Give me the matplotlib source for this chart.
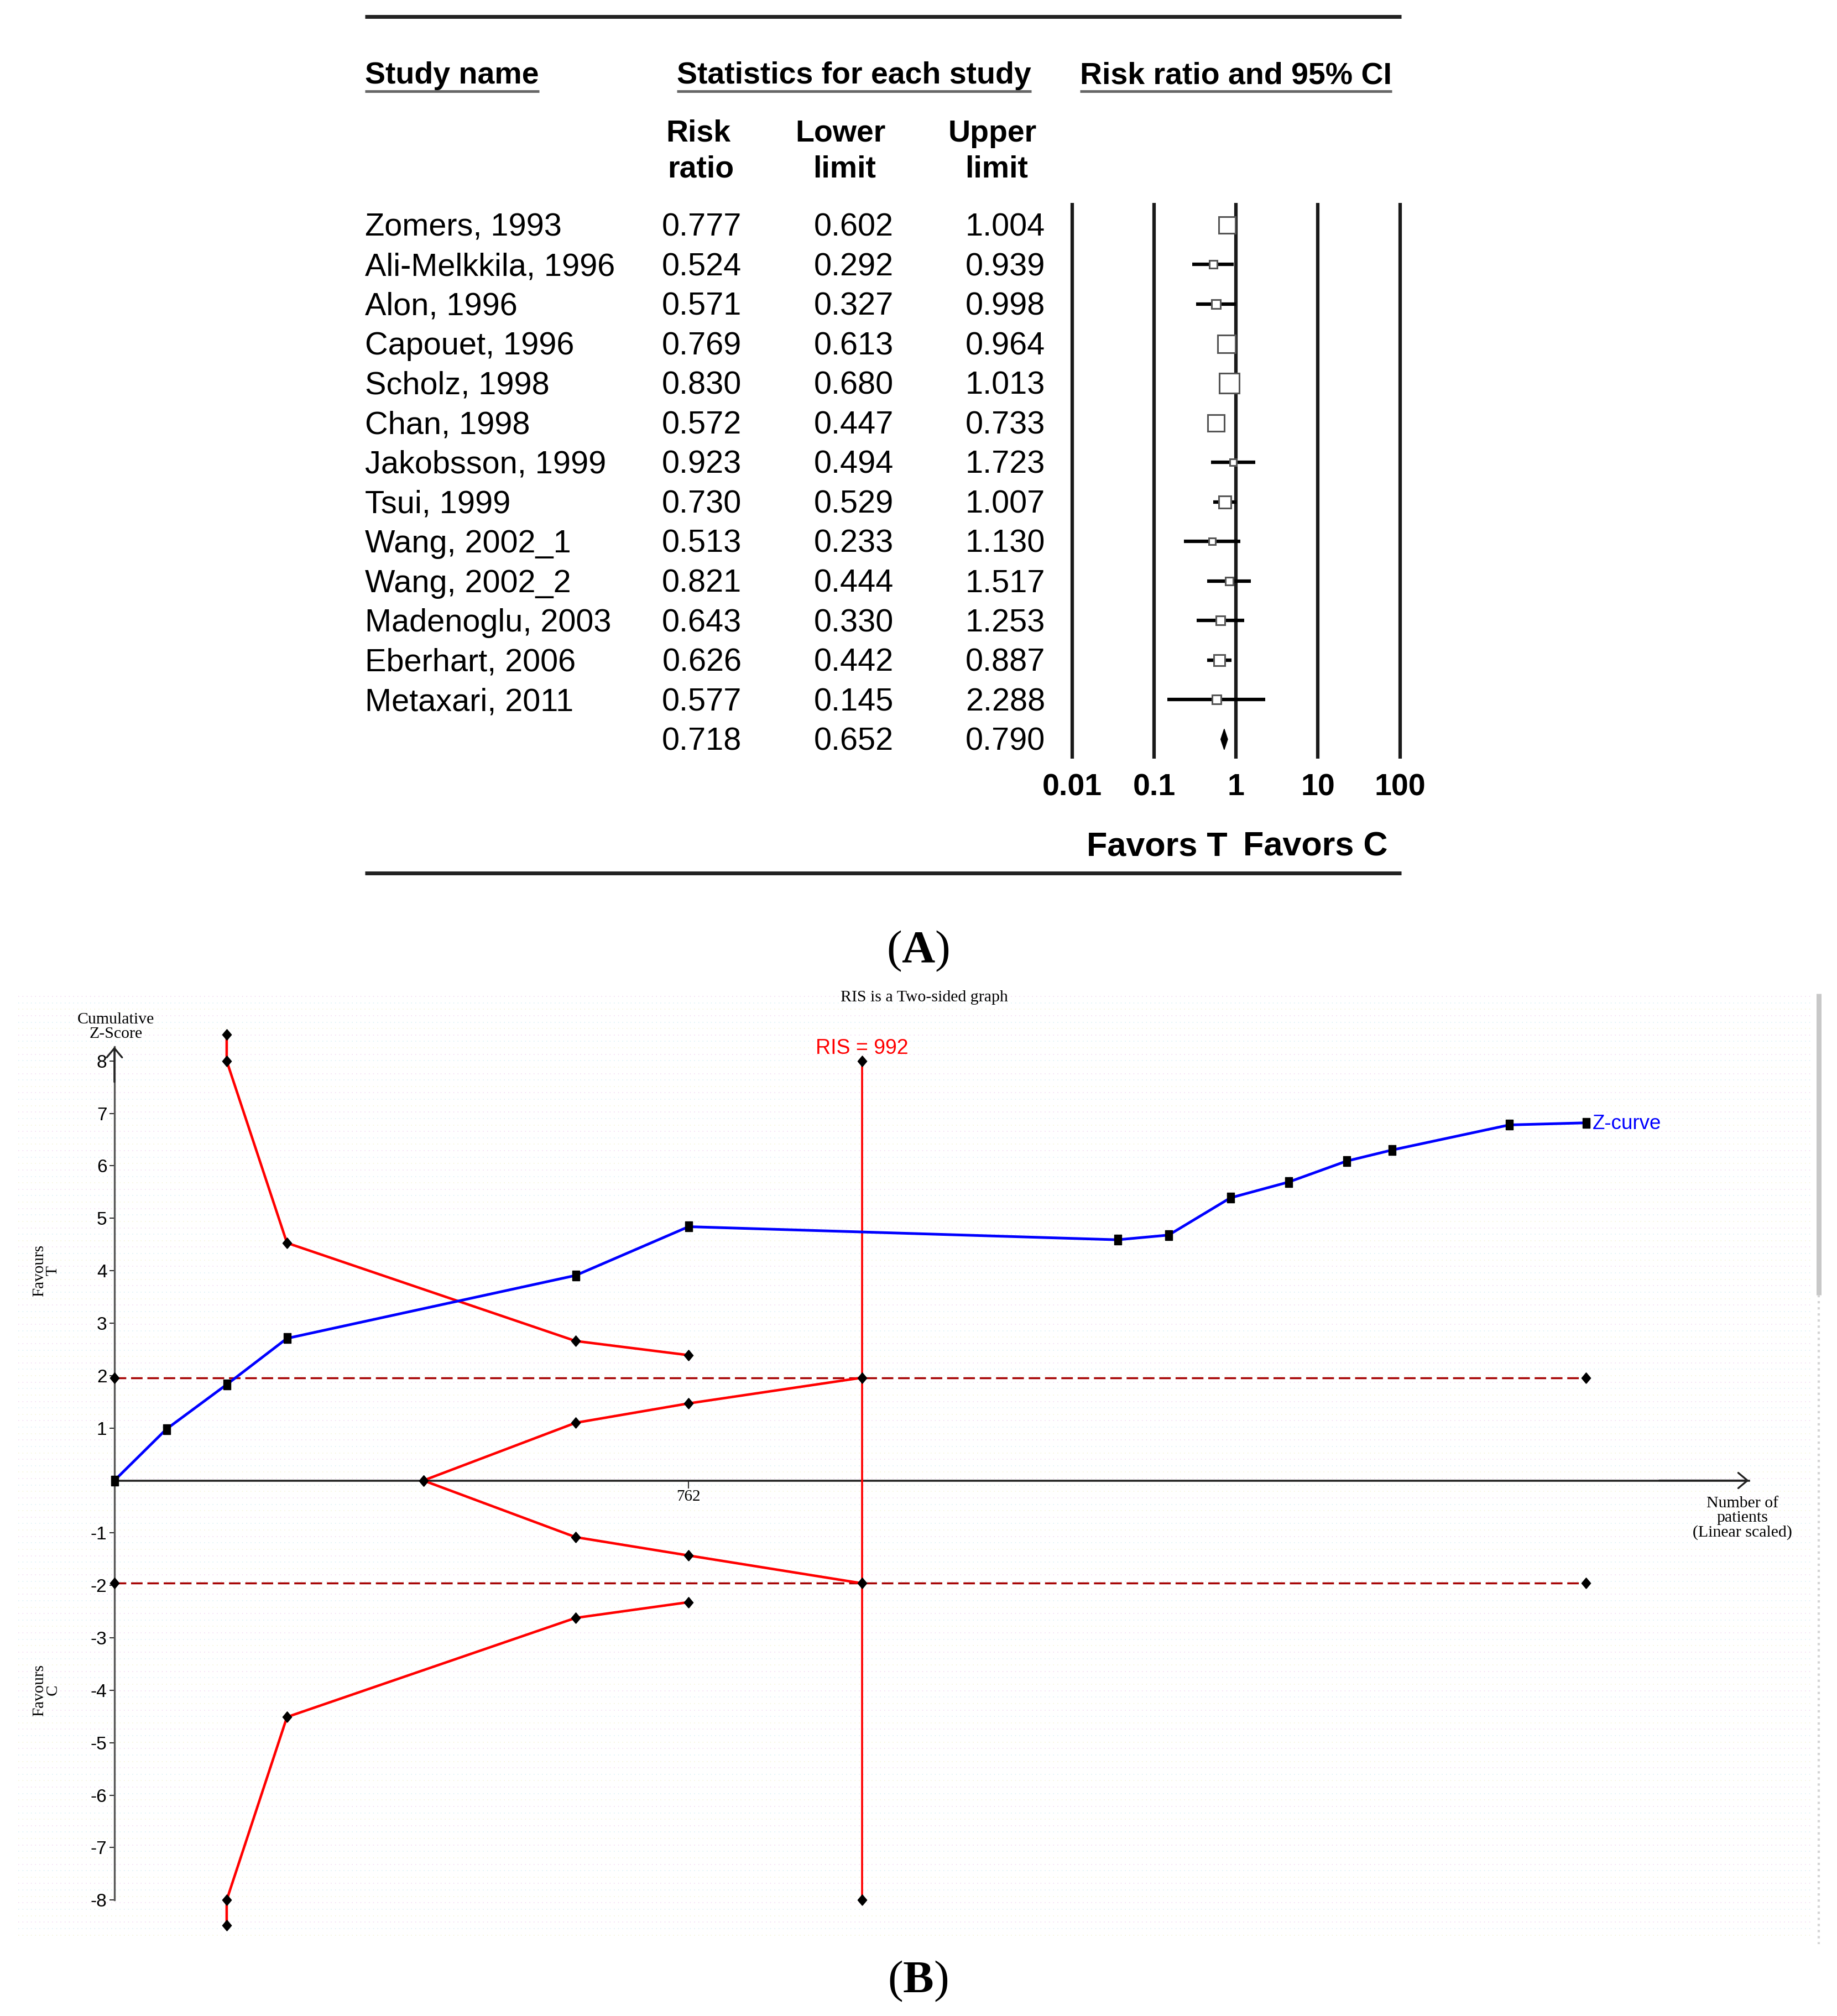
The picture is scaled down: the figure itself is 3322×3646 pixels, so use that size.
import matplotlib
matplotlib.use('Agg')
import matplotlib.pyplot as plt
import matplotlib.transforms as mtransforms
from matplotlib.ticker import NullLocator
import numpy as np

plt.rcParams['font.family'] = 'Liberation Sans'
plt.rcParams['mathtext.fontset'] = 'custom'
plt.rcParams['mathtext.rm'] = 'Liberation Serif'
plt.rcParams['mathtext.bf'] = 'Liberation Serif:bold'
plt.rcParams['axes.unicode_minus'] = False

# ---------------- panel A : forest plot ----------------
studies = ['Zomers, 1993', 'Ali-Melkkila, 1996', 'Alon, 1996', 'Capouet, 1996',
           'Scholz, 1998', 'Chan, 1998', 'Jakobsson, 1999', 'Tsui, 1999',
           'Wang, 2002_1', 'Wang, 2002_2', 'Madenoglu, 2003', 'Eberhart, 2006',
           'Metaxari, 2011']
risk_ratio = [0.777, 0.524, 0.571, 0.769, 0.830, 0.572, 0.923, 0.730, 0.513,
              0.821, 0.643, 0.626, 0.577]
lower_lim = [0.602, 0.292, 0.327, 0.613, 0.680, 0.447, 0.494, 0.529, 0.233,
             0.444, 0.330, 0.442, 0.145]
upper_lim = [1.004, 0.939, 0.998, 0.964, 1.013, 0.733, 1.723, 1.007, 1.130,
             1.517, 1.253, 0.887, 2.288]
# relative weight (%)
weight = [13.0, 3.3, 3.6, 15.4, 20.0, 14.4, 2.6, 8.0, 2.4, 3.3, 3.7, 6.6, 3.7]
pooled_rr, pooled_lo, pooled_hi = 0.718, 0.652, 0.790
scale_ticks = [0.01, 0.1, 1, 10, 100]
scale_labels = ['0.01', '0.1', '1', '10', '100']

# ---------------- panel B : trial sequential analysis ----------------
n_patients = [0, 69, 149, 229, 612, 762, 1331, 1399, 1481, 1558, 1635, 1695, 1851, 1953]
z_curve = [0, 0.98, 1.83, 2.71, 3.91, 4.84, 4.59, 4.68, 5.39, 5.69, 6.09, 6.30, 6.78, 6.82]
bound_n = [149, 149, 229, 612, 762]
bound_up = [8.5, 8.0, 4.53, 2.66, 2.39]
bound_lo = [-8.48, -8.0, -4.51, -2.62, -2.32]
futil_n = [410, 612, 762, 992]
futil_up = [0, 1.10, 1.47, 1.96]
futil_lo = [0, -1.08, -1.43, -1.96]
conv_z = 1.96
ris = 992
y_ticks = [-8, -7, -6, -5, -4, -3, -2, -1, 1, 2, 3, 4, 5, 6, 7, 8]

W, H = 1429, 1568   # layout grid (reference pixels)
fig = plt.figure(figsize=(33.22, 36.46), dpi=100)


def box(x0, y0, x1, y1):
    return [x0 / W, 1 - y1 / H, (x1 - x0) / W, (y1 - y0) / H]


pg = fig.add_axes([0, 0, 1, 1])
pg.set_xlim(0, W)
pg.set_ylim(H, 0)
pg.axis('off')

# ---- forest axes
row0, drow = 175, 30.77
fx = fig.add_axes(box(827.6, 150, 1095.4, 590))
fx.set_xscale('log')
fx.set_xlim(10 ** -2.1, 10 ** 2.1)
fx.set_ylim((590 - row0) / drow, (150 - row0) / drow)
fx.patch.set_visible(False)
for s in fx.spines.values():
    s.set_visible(False)
fx.vlines(scale_ticks, (158 - row0) / drow, (590 - row0) / drow, colors='#1a1a1a', lw=4.5)
rows = np.arange(len(studies))
fx.hlines(rows, lower_lim, upper_lim, color='black', lw=4.5, zorder=3)
for i in rows:
    fx.plot(risk_ratio[i], i, marker='s', ms=5.8 * np.sqrt(weight[i]), mfc='white',
            mec='#555555', mew=2.2, zorder=4)
n = len(studies)
fx.fill([pooled_lo, pooled_rr, pooled_hi, pooled_rr], [n, n - 0.26, n, n + 0.26],
        color='black', zorder=4)
fx.set_xticks(scale_ticks)
fx.set_xticklabels(scale_labels)
fx.xaxis.set_minor_locator(NullLocator())
fx.tick_params(axis='x', length=0, pad=19, labelsize=40)
for t in fx.get_xticklabels():
    t.set_fontweight('bold')
fx.tick_params(axis='y', left=False, labelleft=False)

tr = mtransforms.blended_transform_factory(pg.transData, fx.transData)
dy = 2 / drow   # small nudge so glyphs sit on the row centre
for i in rows:
    fx.text(284, i + dy, studies[i], transform=tr, fontsize=41.5, ha='left', va='center')
    fx.text(546, i + dy, f'{risk_ratio[i]:.3f}', transform=tr, fontsize=41.5, ha='center', va='center')
    fx.text(664, i + dy, f'{lower_lim[i]:.3f}', transform=tr, fontsize=41.5, ha='center', va='center')
    fx.text(782, i + dy, f'{upper_lim[i]:.3f}', transform=tr, fontsize=41.5, ha='center', va='center')
fx.text(546, n + dy, f'{pooled_rr:.3f}', transform=tr, fontsize=41.5, ha='center', va='center')
fx.text(664, n + dy, f'{pooled_lo:.3f}', transform=tr, fontsize=41.5, ha='center', va='center')
fx.text(782, n + dy, f'{pooled_hi:.3f}', transform=tr, fontsize=41.5, ha='center', va='center')

heads = [pg.text(284, 59, 'Study name', ha='left'),
         pg.text(664.5, 59, 'Statistics for each study', ha='center'),
         pg.text(961.5, 59, 'Risk ratio and 95% CI', ha='center')]
for h in heads:
    h.set_fontsize(40)
    h.set_fontweight('bold')
    h.set_va('center')
for x, y, s in [(543, 104, 'Risk'), (545, 132, 'ratio'), (654, 104, 'Lower'),
                (657, 132, 'limit'), (772, 104, 'Upper'), (775, 132, 'limit')]:
    pg.text(x, y, s, fontsize=40, fontweight='bold', ha='center', va='center')

pg.plot([284, 1090], [13, 13], color='#222222', lw=5, solid_capstyle='butt')
pg.plot([284, 1090], [679, 679], color='#222222', lw=5, solid_capstyle='butt')
pg.text(955, 659, 'Favors T', fontsize=44, fontweight='bold', ha='right', va='center')
pg.text(967, 659, 'Favors C', fontsize=44, fontweight='bold', ha='left', va='center')
pg.text(714, 740, r'($\mathbf{A}$)', family='Liberation Serif', fontsize=60,
        ha='center', va='center')
pg.text(714, 1541, r'($\mathbf{B}$)', family='Liberation Serif', fontsize=60,
        ha='center', va='center')

# ---- TSA background texture
cols = ['#f0d4f0', '#d4eef4', '#f2f2d2']
for k, y in enumerate(np.arange(775, 1510, 5)):
    pg.plot([14, 1410], [y, y], ls=(0, (1, 4)), color=cols[k % 3], lw=1.1)
pg.plot([1415, 1415], [773, 1007], color='#c8c8c8', lw=6.5, solid_capstyle='butt')
pg.plot([1415, 1415], [1007, 1512], color='#d4d4d4', lw=3, ls=':')

# ---- TSA axes
x0px, x_per = 89, 0.5862
z0px, z_per = 1151.5, 40.79
tx = fig.add_axes(box(12, 760, 1417, 1512))
tx.set_xlim((12 - x0px) / x_per, (1417 - x0px) / x_per)
tx.set_ylim((z0px - 1512) / z_per, (z0px - 760) / z_per)
tx.patch.set_visible(False)
tx.spines['top'].set_visible(False)
tx.spines['right'].set_visible(False)
tx.spines['left'].set_position(('data', 0))
tx.spines['left'].set_bounds(-8, 8.27)
tx.spines['left'].set_color('#555555')
tx.spines['left'].set_linewidth(2.4)
tx.spines['bottom'].set_position(('data', 0))
tx.spines['bottom'].set_bounds(0, 2169)
tx.spines['bottom'].set_color('#222222')
tx.spines['bottom'].set_linewidth(2.6)
tx.set_yticks(y_ticks)
tx.set_yticklabels([str(v) for v in y_ticks])
tx.tick_params(axis='y', direction='out', length=6.7, width=1.5, pad=3,
               labelsize=24, color='#333333')
tx.set_xticks([762])
tx.set_xticklabels(['762'])
tx.tick_params(axis='x', direction='out', length=10, width=1.5, pad=2,
               labelsize=21, labelfontfamily='Liberation Serif', color='#333333')

arrow = dict(arrowstyle='->,head_length=0.3,head_width=0.25', lw=2.4, color='#222222',
             mutation_scale=40, shrinkA=0, shrinkB=0)
tx.annotate('', xy=(0, 8.27), xytext=(0, 7.6), arrowprops=arrow)
tx.annotate('', xy=(2169, 0), xytext=(2050, 0), arrowprops=arrow)

diamond = [(0, -0.5), (0.42, 0), (0, 0.5), (-0.42, 0), (0, -0.5)]
rect = [(-0.36, -0.5), (0.36, -0.5), (0.36, 0.5), (-0.36, 0.5), (-0.36, -0.5)]
mk = dict(marker=diamond, ms=14, mfc='black', mec='black')

for zc in (conv_z, -conv_z):
    tx.plot([0, n_patients[-1]], [zc, zc], ls=(0, (6, 2.5)), color='#a50000', lw=2.5,
            zorder=3, **mk)
tx.plot([ris, ris], [-8, 8], color='red', lw=2.6, zorder=3, **mk)
tx.plot(bound_n, bound_up, color='red', lw=3.3, zorder=3, **mk)
tx.plot(bound_n, bound_lo, color='red', lw=3.3, zorder=3, **mk)
tx.plot(futil_n, futil_up, color='red', lw=3.3, zorder=3, **mk)
tx.plot(futil_n, futil_lo, color='red', lw=3.3, zorder=3, **mk)
tx.plot(n_patients, z_curve, color='#0000ff', lw=3.5, marker=rect, ms=13,
        mfc='black', mec='black', zorder=5)

tx.text(ris, 8.24, f'RIS = {ris}', color='red', fontsize=27, ha='center', va='center')
tx.annotate('Z-curve', (n_patients[-1], z_curve[-1]), xytext=(8, -1),
            textcoords='offset points', color='#0000ff', fontsize=26.5, va='center')

serif = dict(family='Liberation Serif', ha='center', va='center')
pg.text(719, 776, 'RIS is a Two-sided graph', fontsize=21.5, **serif)
pg.text(90, 798.5, 'Cumulative\nZ-Score', fontsize=21.5, linespacing=1.0, **serif)
pg.text(1355.3, 1180.8, 'Number of\npatients\n(Linear scaled)', fontsize=21.5,
        linespacing=1.0, **serif)
pg.text(35.8, 988.4, 'Favours\nT', fontsize=21, rotation=90, linespacing=0.95, **serif)
pg.text(35.8, 1314.5, 'Favours\nC', fontsize=21, rotation=90, linespacing=0.95, **serif)

# underline the column headers at their drawn width
fig.canvas.draw()
inv = pg.transData.inverted()
for h in heads:
    bb = h.get_window_extent()
    (xa, _), (xb, _) = inv.transform([[bb.x0, bb.y0], [bb.x1, bb.y1]])
    pg.plot([xa, xb], [71, 71], color='#666666', lw=3.5, solid_capstyle='butt')

fig.savefig('out.png', dpi=100)
